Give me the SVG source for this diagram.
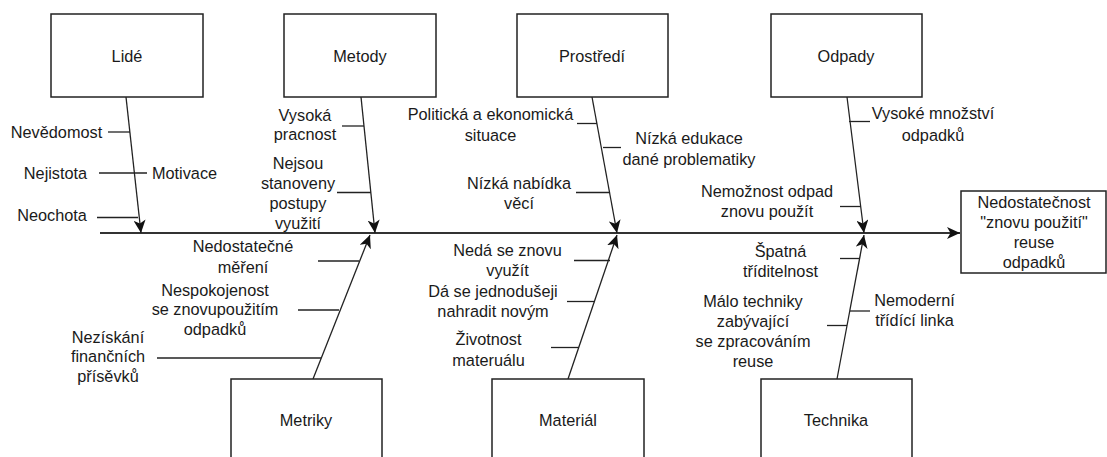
<svg xmlns="http://www.w3.org/2000/svg" width="1107" height="457" viewBox="0 0 1107 457">
<style>
.box{fill:#fff;stroke:#222;stroke-width:1.5}
.ln{fill:none;stroke:#222;stroke-width:1.3}
.sp{fill:none;stroke:#333;stroke-width:1.8}
text{font-family:"Liberation Sans",Arial,sans-serif;font-size:16.3px;fill:#1a1a1a;text-anchor:middle}
</style>
<defs>
<marker id="ah" markerUnits="userSpaceOnUse" markerWidth="14" markerHeight="12" viewBox="0 0 14 12" refX="13" refY="6" orient="auto">
<path d="M0,0 L13,6 L0,12 L3.5,6 z" fill="#111"/>
</marker>
</defs>
<rect width="1107" height="457" fill="#fff"/>
<g id="connectors">
<line class="sp" x1="100" y1="233" x2="960" y2="233" marker-end="url(#ah)"/>
<line class="ln" x1="126" y1="97" x2="141" y2="233" marker-end="url(#ah)"/>
<line class="ln" x1="361" y1="97" x2="375" y2="233" marker-end="url(#ah)"/>
<line class="ln" x1="592" y1="97" x2="617" y2="233" marker-end="url(#ah)"/>
<line class="ln" x1="847" y1="97" x2="864" y2="233" marker-end="url(#ah)"/>
<line class="ln" x1="313" y1="379" x2="370" y2="235" marker-end="url(#ah)"/>
<line class="ln" x1="568" y1="379" x2="617" y2="235" marker-end="url(#ah)"/>
<line class="ln" x1="837" y1="379" x2="864" y2="235" marker-end="url(#ah)"/>
<line class="ln" x1="108" y1="132" x2="130" y2="132"/>
<line class="ln" x1="99" y1="173" x2="147" y2="173"/>
<line class="ln" x1="97" y1="217.5" x2="138" y2="217.5"/>
<line class="ln" x1="342" y1="126" x2="364" y2="126"/>
<line class="ln" x1="337" y1="192.5" x2="371" y2="192.5"/>
<line class="ln" x1="577" y1="123.5" x2="597" y2="123.5"/>
<line class="ln" x1="603" y1="147.5" x2="621" y2="147.5"/>
<line class="ln" x1="576" y1="192.5" x2="609" y2="192.5"/>
<line class="ln" x1="849" y1="121.5" x2="870" y2="121.5"/>
<line class="ln" x1="840" y1="206.5" x2="861" y2="206.5"/>
<line class="ln" x1="318" y1="261" x2="359" y2="261"/>
<line class="ln" x1="298" y1="310" x2="339" y2="310"/>
<line class="ln" x1="157" y1="358" x2="321" y2="358"/>
<line class="ln" x1="574" y1="260.5" x2="610" y2="260.5"/>
<line class="ln" x1="567" y1="301.5" x2="595" y2="301.5"/>
<line class="ln" x1="551" y1="347.5" x2="579" y2="347.5"/>
<line class="ln" x1="840" y1="258.5" x2="860" y2="258.5"/>
<line class="ln" x1="850" y1="311" x2="870" y2="311"/>
<line class="ln" x1="827" y1="325.5" x2="847" y2="325.5"/>
</g>
<g id="lide"><rect class="box" x="51" y="14" width="152" height="83"/><text x="127" y="61.5">Lidé</text></g>
<g id="metody"><rect class="box" x="284" y="14" width="152" height="83"/><text x="360" y="61.5">Metody</text></g>
<g id="prostredi"><rect class="box" x="517" y="14" width="151" height="83"/><text x="592" y="61.5">Prostředí</text></g>
<g id="odpady"><rect class="box" x="771" y="14" width="151" height="83"/><text x="846" y="61.5">Odpady</text></g>
<g id="metriky"><rect class="box" x="231" y="379" width="151" height="90"/><text x="306" y="425.5">Metriky</text></g>
<g id="material"><rect class="box" x="492" y="379" width="152" height="90"/><text x="568" y="425.5">Materiál</text></g>
<g id="technika"><rect class="box" x="761" y="379" width="151" height="90"/><text x="836" y="425.5">Technika</text></g>
<g id="result"><rect class="box" x="961" y="191" width="145" height="82"/>
<text x="1034"><tspan x="1034" y="207.5">Nedostatečnost</tspan><tspan x="1034" y="227.5">"znovu použití"</tspan><tspan x="1034" y="247.5">reuse</tspan><tspan x="1034" y="267.5">odpadků</tspan></text></g>
<g id="labels">
<text x="56.5" y="137.5">Nevědomost</text>
<text x="55.5" y="178.5">Nejistota</text>
<text x="184.5" y="178.5">Motivace</text>
<text x="52" y="220.5">Neochota</text>
<text><tspan x="305" y="120.5">Vysoká</tspan><tspan x="305" y="140">pracnost</tspan></text>
<text><tspan x="298" y="168.5">Nejsou</tspan><tspan x="298" y="188.5">stanoveny</tspan><tspan x="298" y="208.5">postupy</tspan><tspan x="298" y="228.5">využití</tspan></text>
<text><tspan x="490.5" y="119.5">Politická a ekonomická</tspan><tspan x="490.5" y="140.5">situace</tspan></text>
<text><tspan x="689" y="143.5">Nízká edukace</tspan><tspan x="689" y="164.5">dané problematiky</tspan></text>
<text><tspan x="519" y="188.5">Nízká nabídka</tspan><tspan x="519" y="208.5">věcí</tspan></text>
<text><tspan x="933" y="118.5">Vysoké množství</tspan><tspan x="933" y="140.5">odpadků</tspan></text>
<text><tspan x="767" y="197">Nemožnost odpad</tspan><tspan x="767" y="217">znovu použít</tspan></text>
<text><tspan x="243" y="251.5">Nedostatečné</tspan><tspan x="243" y="272.5">měření</tspan></text>
<text><tspan x="215" y="295.5">Nespokojenost</tspan><tspan x="215" y="315">se znovupoužitím</tspan><tspan x="215" y="334.5">odpadků</tspan></text>
<text><tspan x="108" y="342.5">Nezískání</tspan><tspan x="108" y="361.5">finančních</tspan><tspan x="108" y="381.5">přísěvků</tspan></text>
<text><tspan x="507.5" y="255.5">Nedá se znovu</tspan><tspan x="507.5" y="276">využít</tspan></text>
<text><tspan x="493" y="296.5">Dá se jednodušeji</tspan><tspan x="493" y="317">nahradit novým</tspan></text>
<text><tspan x="488.5" y="344.5">Životnost</tspan><tspan x="488.5" y="365.5">materuálu</tspan></text>
<text><tspan x="780.5" y="256.5">Špatná</tspan><tspan x="780.5" y="277">tříditelnost</tspan></text>
<text><tspan x="914.5" y="305.5">Nemoderní</tspan><tspan x="914.5" y="325.5">třídící linka</tspan></text>
<text><tspan x="753" y="306.5">Málo techniky</tspan><tspan x="753" y="326.5">zabývající</tspan><tspan x="753" y="347">se zpracováním</tspan><tspan x="753" y="366.5">reuse</tspan></text>
</g>
</svg>
